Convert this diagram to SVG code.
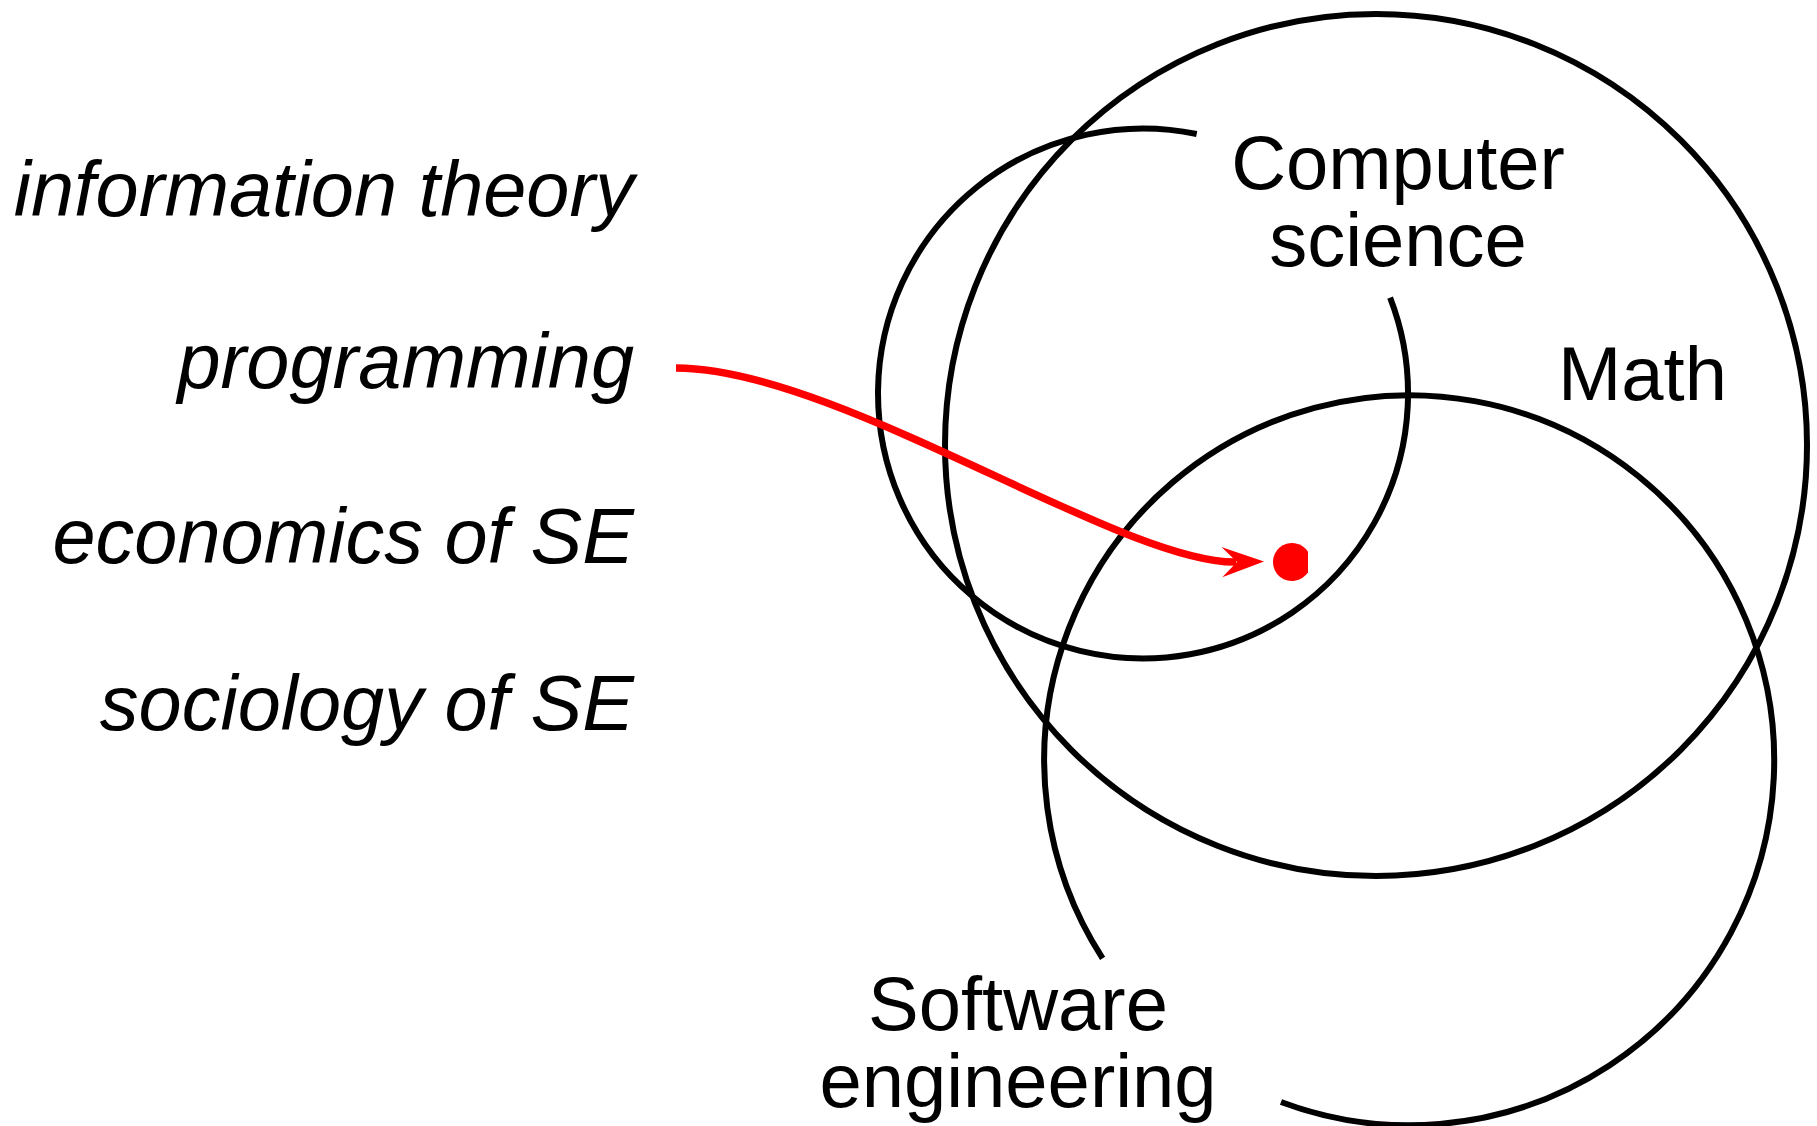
<svg xmlns="http://www.w3.org/2000/svg" width="1817" height="1126" viewBox="0 0 1817 1126">
<style>
.ring{fill:none;stroke:#000;stroke-width:6}
.lbl{font-family:"Liberation Sans",Arial,sans-serif;font-size:76px;fill:#000}
.it{font-style:italic;text-anchor:end;font-size:77.5px}
.ctr{text-anchor:middle}
.red{fill:none;stroke:#ff0000;stroke-width:7.5}
</style>
<defs>
<marker id="ah" markerUnits="userSpaceOnUse" markerWidth="50" markerHeight="40" refX="14" refY="15" orient="auto" viewBox="0 0 50 40">
<path d="M0,0 L42,15 L0,30 L15,15 Z" fill="#ff0000"/>
</marker>
</defs>
<rect width="1817" height="1126" fill="#fff"/>
<g id="math">
<circle class="ring" cx="1376" cy="445" r="431"/>
<text class="lbl" x="1558" y="400">Math</text>
</g>
<g id="cs">
<path class="ring" d="M1196.7,134 A265,265 0 1 0 1390.1,297.7"/>
<text class="lbl ctr" x="1398" y="189">Computer</text>
<text class="lbl ctr" x="1398" y="266">science</text>
</g>
<g id="se">
<path class="ring" d="M1102.6,958.3 A365,365 0 1 1 1281,1102"/>
<text class="lbl ctr" x="1018" y="1030">Software</text>
<text class="lbl ctr" x="1018" y="1107">engineering</text>
</g>
<g id="labels">
<text id="info" class="lbl it" x="634" y="216">information theory</text>
<text id="prog" class="lbl it" x="634" y="388">programming</text>
<text id="econ" class="lbl it" x="634" y="563">economics of SE</text>
<text id="soc" class="lbl it" x="634" y="730">sociology of SE</text>
</g>
<g id="dot">
<path d="M1308,551.8 A19,19 0 1 0 1308,572.2 Z" fill="#ff0000"/>
</g>
<g id="connectors">
<path class="red" d="M676,368 C837,368 1121,564 1236,562" marker-end="url(#ah)"/>
</g>
</svg>
